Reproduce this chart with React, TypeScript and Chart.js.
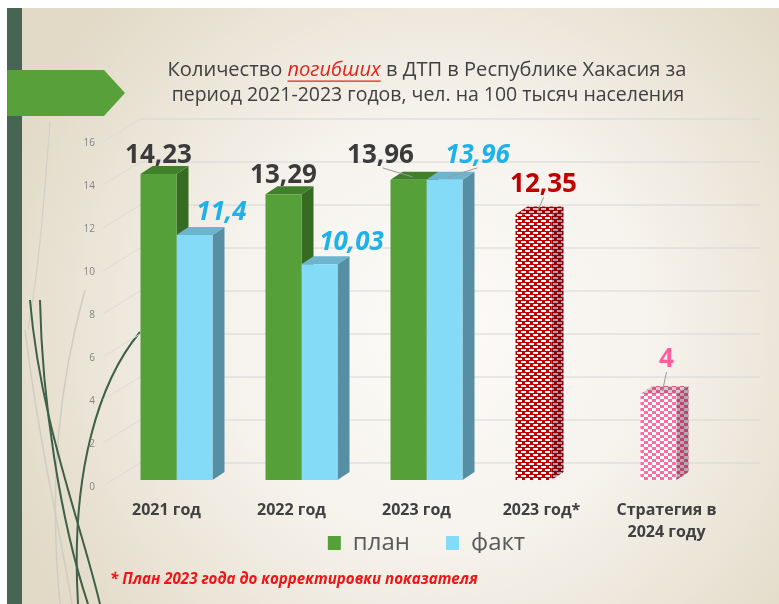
import React, { useEffect, useRef } from "react";
import { Chart, registerables } from "chart.js";

Chart.register(...registerables);

// ---------- data ----------
const categories: (string | string[])[] = [
  "2021 год",
  "2022 год",
  "2023 год",
  "2023 год*",
  ["Стратегия в", "2024 году"],
];
const planValues: (number | null)[] = [14.23, 13.29, 13.96, 12.35, 4];
const factValues: (number | null)[] = [11.4, 10.03, 13.96, null, null];
const seriesNames = ["план", "факт"];
const yMin = 0;
const yMax = 16;
const yStep = 2;
const titleLine1 = ["Количество ", "погибших", " в ДТП в Республике Хакасия за"];
const titleLine2 = "период 2021-2023 годов, чел. на 100 тысяч населения";
const footnote = "* План 2023 года до корректировки показателя";

// ---------- styles ----------
const GREEN = "#56a03a";
const GREEN_TOP = "#40802a";
const GREEN_SIDE = "#356c22";
const BLUE = "#84dbf8";
const BLUE_TOP = "#6db4cf";
const BLUE_SIDE = "#568ea4";
const FONT = "'Open Sans', 'Noto Sans', sans-serif";
const DEPTH_X = 12;
const DEPTH_Y = 8;
const LEG_PAD = 36;
const LEG_CENTER_Y = 543;
const XAXIS_H = 66;

// label nudges relative to the bar's front-top centre: [dx, baseline dy]
const planNudge = [
  [0, -11],
  [0, -11],
  [-28, -17],
  [10, -22],
  [8, -27],
];
const factNudge = [
  [27, -15],
  [32, -14],
  [33, -17],
  [0, 0],
  [0, 0],
];
const planLeader = [false, false, true, true, true];
const factLeader = [false, false, true, false, false];
const planLabelColors = ["#3b3b3b", "#3b3b3b", "#3b3b3b", "#c00000", "#ff5e9c"];
const FACT_LABEL = "#1eb1ea";

const fmt = (v: number) => String(v).replace(".", ",");

function makePattern(kind: "red" | "pink", dark: number) {
  const c = document.createElement("canvas");
  c.width = 8;
  c.height = 6;
  const g = c.getContext("2d")!;
  if (kind === "red") {
    g.fillStyle = "#c00000";
    g.fillRect(0, 0, 8, 6);
    g.fillStyle = "#ffffff";
    g.fillRect(1, 1, 5, 2);
    g.fillRect(5, 4, 3, 2);
    g.fillRect(0, 4, 2, 2);
  } else {
    g.fillStyle = "#ffffff";
    g.fillRect(0, 0, 8, 6);
    g.fillStyle = "#ff6ea3";
    g.fillRect(0, 0, 4, 3);
    g.fillRect(4, 3, 4, 3);
  }
  if (dark > 0) {
    g.fillStyle = `rgba(60,0,20,${dark})`;
    g.fillRect(0, 0, 8, 6);
  }
  const p = document.createElement("canvas").getContext("2d")!.createPattern(c, "repeat");
  return p as CanvasPattern;
}

function poly(ctx: CanvasRenderingContext2D, pts: number[][], fill: any) {
  ctx.beginPath();
  ctx.moveTo(pts[0][0], pts[0][1]);
  for (let i = 1; i < pts.length; i++) ctx.lineTo(pts[i][0], pts[i][1]);
  ctx.closePath();
  ctx.fillStyle = fill;
  ctx.fill();
}

function fitFont(ctx: CanvasRenderingContext2D, style: string, text: string, target: number, base: number) {
  ctx.font = `${style} ${base}px ${FONT}`;
  const w = ctx.measureText(text).width;
  return (base * target) / w;
}

export default function App() {
  const ref = useRef<HTMLCanvasElement>(null);

  useEffect(() => {
    const canvas = ref.current!;
    const redP = makePattern("red", 0);
    const redTop = makePattern("red", 0.25);
    const redSide = makePattern("red", 0.4);
    const pinkP = makePattern("pink", 0);
    const pinkTop = makePattern("pink", 0.2);
    const pinkSide = makePattern("pink", 0.35);

    const planFront = [GREEN, GREEN, GREEN, redP, pinkP];
    const planTopF = [GREEN_TOP, GREEN_TOP, GREEN_TOP, redTop, pinkTop];
    const planSideF = [GREEN_SIDE, GREEN_SIDE, GREEN_SIDE, redSide, pinkSide];
    const factTopF = [BLUE_TOP, BLUE_TOP, BLUE_TOP, BLUE_TOP, BLUE_TOP];
    const factSideF = [BLUE_SIDE, BLUE_SIDE, BLUE_SIDE, BLUE_SIDE, BLUE_SIDE];

    const slide = {
      id: "slide",
      afterLayout(chart: any) {
        // pull the legend up so that it sits just under the category labels
        const lg = chart.legend;
        if (!lg) return;
        const shift = LEG_CENTER_Y - (lg.top + LEG_PAD + 12);
        lg.top += shift;
        lg.bottom += shift;
      },
      beforeDraw(chart: any) {
        const ctx: CanvasRenderingContext2D = chart.ctx;
        const W = chart.width;
        const H = chart.height;
        ctx.save();
        ctx.fillStyle = "#ffffff";
        ctx.fillRect(0, 0, W, H);
        const g = ctx.createRadialGradient(440, 330, 0, 440, 330, 470);
        g.addColorStop(0, "#fcfbf8");
        g.addColorStop(0.45, "#f6f3ed");
        g.addColorStop(1, "#e2d9c6");
        ctx.fillStyle = g;
        ctx.fillRect(7, 8, W - 7, H - 8);
        // left dark band
        ctx.fillStyle = "#476553";
        ctx.fillRect(7, 8, 15, H - 8);
        // decorative curves
        const curve = (p: number[], color: string, w: number) => {
          ctx.beginPath();
          ctx.moveTo(p[0], p[1]);
          ctx.bezierCurveTo(p[2], p[3], p[4], p[5], p[6], p[7]);
          ctx.strokeStyle = color;
          ctx.lineWidth = w;
          ctx.stroke();
        };
        curve([50, 122, 44, 200, 40, 260, 28, 330], "#d2d0c6", 1.2);
        curve([85, 290, 60, 380, 48, 480, 60, 604], "#cfcdc3", 1.5);
        curve([25, 330, 40, 450, 60, 530, 72, 604], "#cfcdc3", 1.5);
        curve([30, 300, 40, 420, 80, 520, 100, 604], "#3e6049", 2);
        curve([40, 300, 42, 400, 60, 520, 88, 604], "#3e6049", 2);
        curve([140, 332, 100, 380, 70, 470, 78, 604], "#3e6049", 2);
        // arrow
        ctx.beginPath();
        ctx.moveTo(7, 70);
        ctx.lineTo(104, 70);
        ctx.lineTo(125, 93);
        ctx.lineTo(104, 116);
        ctx.lineTo(7, 116);
        ctx.closePath();
        ctx.fillStyle = "#58a13a";
        ctx.fill();
        ctx.restore();
      },
      beforeDatasetsDraw(chart: any) {
        const ctx: CanvasRenderingContext2D = chart.ctx;
        const ys = chart.scales.y;
        const area = chart.chartArea;
        ctx.save();
        // back-wall grid lines with perspective connectors
        ctx.lineWidth = 1;
        for (let v = yMin; v <= yMax; v += yStep) {
          const yb = ys.getPixelForValue(v);
          ctx.strokeStyle = "#d6d6d6";
          ctx.beginPath();
          ctx.moveTo(area.left + 26, yb - 17);
          ctx.lineTo(area.right + 21, yb - 17);
          ctx.stroke();
          ctx.strokeStyle = "#dcdcdc";
          ctx.beginPath();
          ctx.moveTo(area.left - 11, yb + 6);
          ctx.lineTo(area.left + 26, yb - 17);
          ctx.stroke();
        }
        // 3D top and side faces
        chart.data.datasets.forEach((ds: any, di: number) => {
          const meta = chart.getDatasetMeta(di);
          meta.data.forEach((el: any, i: number) => {
            if (ds.data[i] == null) return;
            const { x, y, base, width } = el.getProps(["x", "y", "base", "width"], true);
            const l = x - width / 2;
            const r = x + width / 2;
            const side = di === 0 ? planSideF[i] : factSideF[i];
            const top = di === 0 ? planTopF[i] : factTopF[i];
            poly(ctx, [[r, y], [r + DEPTH_X, y - DEPTH_Y], [r + DEPTH_X, base - DEPTH_Y], [r, base]], side);
            poly(ctx, [[l, y], [l + DEPTH_X, y - DEPTH_Y], [r + DEPTH_X, y - DEPTH_Y], [r, y]], top);
          });
        });
        ctx.restore();
      },
      afterDatasetsDraw(chart: any) {
        const ctx: CanvasRenderingContext2D = chart.ctx;
        ctx.save();
        ctx.textAlign = "center";
        ctx.textBaseline = "alphabetic";
        chart.data.datasets.forEach((ds: any, di: number) => {
          const meta = chart.getDatasetMeta(di);
          meta.data.forEach((el: any, i: number) => {
            const v = ds.data[i];
            if (v == null) return;
            const { x, y } = el.getProps(["x", "y"], true);
            const nudge = di === 0 ? planNudge[i] : factNudge[i];
            const lx = x + nudge[0];
            const ly = y + nudge[1];
            const leader = di === 0 ? planLeader[i] : factLeader[i];
            if (leader) {
              ctx.strokeStyle = "#9a9a9a";
              ctx.lineWidth = 1;
              ctx.beginPath();
              ctx.moveTo(lx + (di === 0 && i === 2 ? 2 : 0), ly + 5);
              ctx.lineTo(x + 4, y - 3);
              ctx.stroke();
            }
            ctx.font = `${di === 1 ? "italic " : ""}bold 26px ${FONT}`;
            ctx.fillStyle = di === 0 ? planLabelColors[i] : FACT_LABEL;
            ctx.fillText(fmt(v), lx, ly);
          });
        });
        ctx.restore();
      },
      afterDraw(chart: any) {
        const ctx: CanvasRenderingContext2D = chart.ctx;
        ctx.save();
        ctx.textBaseline = "middle";
        ctx.textAlign = "left";
        // title line 1
        const s1 = fitFont(ctx, "", titleLine1.join(""), 525, 19);
        const fonts = [`${s1}px ${FONT}`, `italic ${s1}px ${FONT}`, `${s1}px ${FONT}`];
        const colors = ["#404040", "#e2231a", "#404040"];
        const widths = titleLine1.map((t, k) => {
          ctx.font = fonts[k];
          return ctx.measureText(t).width;
        });
        let tx = 427 - widths.reduce((a, b) => a + b, 0) / 2;
        titleLine1.forEach((t, k) => {
          ctx.font = fonts[k];
          ctx.fillStyle = colors[k];
          ctx.fillText(t, tx, 70);
          if (k === 1) {
            ctx.strokeStyle = colors[k];
            ctx.lineWidth = 1.2;
            ctx.beginPath();
            ctx.moveTo(tx, 70 + s1 * 0.55);
            ctx.lineTo(tx + widths[k], 70 + s1 * 0.55);
            ctx.stroke();
          }
          tx += widths[k];
        });
        // title line 2
        const s2 = fitFont(ctx, "", titleLine2, 513, 19);
        ctx.font = `${s2}px ${FONT}`;
        ctx.fillStyle = "#404040";
        ctx.textAlign = "center";
        ctx.fillText(titleLine2, 428, 95);
        // footnote
        const s3 = fitFont(ctx, "italic bold", footnote, 368, 14);
        ctx.font = `italic bold ${s3}px ${FONT}`;
        ctx.fillStyle = "#f01414";
        ctx.textAlign = "left";
        ctx.fillText(footnote, 110, 580);
        ctx.restore();
      },
    };

    const chart = new Chart(canvas, {
      type: "bar",
      data: {
        labels: categories,
        datasets: [
          {
            label: seriesNames[0],
            data: planValues,
            backgroundColor: planFront,
            borderWidth: 0,
            barPercentage: 1,
            categoryPercentage: 0.576,
          },
          {
            label: seriesNames[1],
            data: factValues,
            backgroundColor: BLUE,
            borderWidth: 0,
            barPercentage: 1,
            categoryPercentage: 0.576,
          },
        ],
      },
      options: {
        responsive: false,
        animation: false,
        devicePixelRatio: 1,
        events: [],
        layout: { padding: { left: 0, right: 40, top: 136, bottom: 0 } },
        scales: {
          x: {
            grid: { display: false },
            border: { display: false },
            ticks: {
              color: "#404040",
              font: { family: FONT, size: 16, weight: "bold", lineHeight: 1.4 },
              padding: 11,
              labelOffset: -10,
              maxRotation: 0,
              autoSkip: false,
            },
            afterFit: (s: any) => {
              s.height = XAXIS_H;
              s.paddingLeft = 0;
              s.paddingRight = 0;
            },
          },
          y: {
            min: yMin,
            max: yMax,
            grid: { display: false },
            border: { display: false },
            ticks: {
              stepSize: yStep,
              color: "#858585",
              font: { family: FONT, size: 10 },
              padding: 11,
              labelOffset: 7,
            },
            afterFit: (s: any) => {
              s.width = 114;
              s.paddingTop = 0;
              s.paddingBottom = 0;
            },
          },
        },
        plugins: {
          tooltip: { enabled: false },
          title: { display: false },
          legend: {
            display: true,
            position: "bottom",
            fullSize: false,
            maxHeight: 604 - 480 - XAXIS_H,
            onClick: () => {},
            labels: {
              boxWidth: 13,
              boxHeight: 14,
              padding: LEG_PAD,
              color: "#5a5a5a",
              font: { family: FONT, size: 24 },
              generateLabels: () =>
                seriesNames.map((t, i) => ({
                  text: t,
                  fillStyle: i === 0 ? GREEN : BLUE,
                  strokeStyle: "rgba(0,0,0,0)",
                  lineWidth: 0,
                  hidden: false,
                  datasetIndex: i,
                  fontColor: "#5a5a5a",
                })),
            },
          },
        },
      },
      plugins: [slide],
    } as any);

    return () => chart.destroy();
  }, []);

  return (
    <div style={{ position: "absolute", left: 0, top: 0, width: 779, height: 604, overflow: "hidden" }}>
      <canvas ref={ref} width={779} height={604} style={{ display: "block", width: 779, height: 604 }} />
    </div>
  );
}
